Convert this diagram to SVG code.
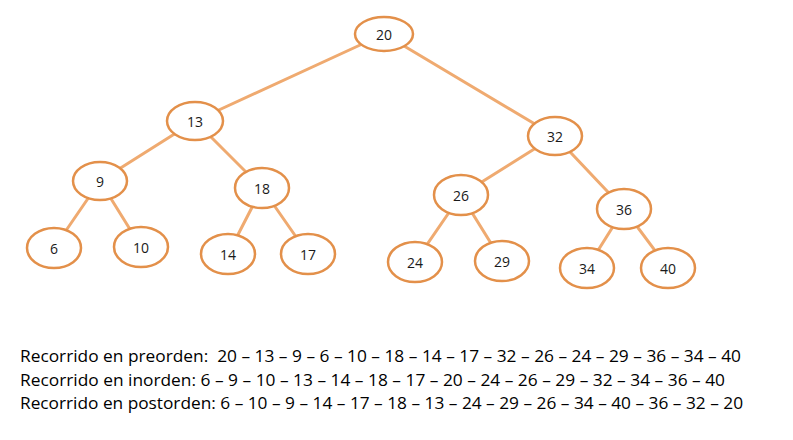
<svg xmlns="http://www.w3.org/2000/svg" width="793" height="440" viewBox="0 0 793 440">
  <style>
    .edge { stroke: #EFAA70; stroke-width: 3; stroke-linecap: round; fill: none; }
    .node ellipse { fill: #FFFFFF; stroke: #E3904A; stroke-width: 2.5; }
    .node text { font-family: "Open Sans", Lato, "Liberation Sans", sans-serif; font-size: 14px; fill: #1A1A1A; text-anchor: middle; dominant-baseline: central; }
    .trav { font-family: "Open Sans", Lato, "Liberation Sans", sans-serif; font-size: 16px; fill: #000000; }
  </style>
  <rect width="793" height="440" fill="#FFFFFF"/>

  <!-- connectors, drawn centre to centre and covered by the node ellipses -->
  <g id="connectors">
    <line class="edge" x1="384" y1="34" x2="195" y2="121"/>
    <line class="edge" x1="384" y1="34" x2="555" y2="136"/>
    <line class="edge" x1="195" y1="121" x2="100" y2="181"/>
    <line class="edge" x1="195" y1="121" x2="262" y2="188"/>
    <line class="edge" x1="100" y1="181" x2="54" y2="248"/>
    <line class="edge" x1="100" y1="181" x2="141" y2="247"/>
    <line class="edge" x1="262" y1="188" x2="228" y2="254"/>
    <line class="edge" x1="262" y1="188" x2="308" y2="254"/>
    <line class="edge" x1="555" y1="136" x2="461" y2="195"/>
    <line class="edge" x1="555" y1="136" x2="624" y2="209"/>
    <line class="edge" x1="461" y1="195" x2="415" y2="262"/>
    <line class="edge" x1="461" y1="195" x2="502" y2="261"/>
    <line class="edge" x1="624" y1="209" x2="587" y2="268"/>
    <line class="edge" x1="624" y1="209" x2="668" y2="268"/>
  </g>

  <g id="n20" class="node"><ellipse cx="384" cy="34" rx="29" ry="17"/><text x="384" y="34">20</text></g>
  <g id="n13" class="node"><ellipse cx="195" cy="121" rx="28" ry="19"/><text x="195" y="121">13</text></g>
  <g id="n32" class="node"><ellipse cx="555" cy="136" rx="27" ry="19"/><text x="555" y="136">32</text></g>
  <g id="n9" class="node"><ellipse cx="100" cy="181" rx="27" ry="19"/><text x="100" y="181">9</text></g>
  <g id="n18" class="node"><ellipse cx="262" cy="188" rx="27" ry="20"/><text x="262" y="188">18</text></g>
  <g id="n26" class="node"><ellipse cx="461" cy="195" rx="27" ry="20"/><text x="461" y="195">26</text></g>
  <g id="n36" class="node"><ellipse cx="624" cy="209" rx="27" ry="20"/><text x="624" y="209">36</text></g>
  <g id="n6" class="node"><ellipse cx="54" cy="248" rx="27" ry="20"/><text x="54" y="248">6</text></g>
  <g id="n10" class="node"><ellipse cx="141" cy="247" rx="27" ry="20"/><text x="141" y="247">10</text></g>
  <g id="n14" class="node"><ellipse cx="228" cy="254" rx="27" ry="20"/><text x="228" y="254">14</text></g>
  <g id="n17" class="node"><ellipse cx="308" cy="254" rx="27" ry="20"/><text x="308" y="254">17</text></g>
  <g id="n24" class="node"><ellipse cx="415" cy="262" rx="27" ry="20"/><text x="415" y="262">24</text></g>
  <g id="n29" class="node"><ellipse cx="502" cy="261" rx="27" ry="20"/><text x="502" y="261">29</text></g>
  <g id="n34" class="node"><ellipse cx="587" cy="268" rx="27" ry="20"/><text x="587" y="268">34</text></g>
  <g id="n40" class="node"><ellipse cx="668" cy="268" rx="27" ry="20"/><text x="668" y="268">40</text></g>

  <!-- traversal listings -->
  <g id="traversals">
    <text class="trav" x="20" y="362" textLength="721" lengthAdjust="spacingAndGlyphs" xml:space="preserve">Recorrido en preorden:  20 – 13 – 9 – 6 – 10 – 18 – 14 – 17 – 32 – 26 – 24 – 29 – 36 – 34 – 40</text>
    <text class="trav" x="20" y="386" textLength="705" lengthAdjust="spacingAndGlyphs">Recorrido en inorden: 6 – 9 – 10 – 13 – 14 – 18 – 17 – 20 – 24 – 26 – 29 – 32 – 34 – 36 – 40</text>
    <text class="trav" x="20" y="409" textLength="723" lengthAdjust="spacingAndGlyphs">Recorrido en postorden: 6 – 10 – 9 – 14 – 17 – 18 – 13 – 24 – 29 – 26 – 34 – 40 – 36 – 32 – 20</text>
  </g>
</svg>
